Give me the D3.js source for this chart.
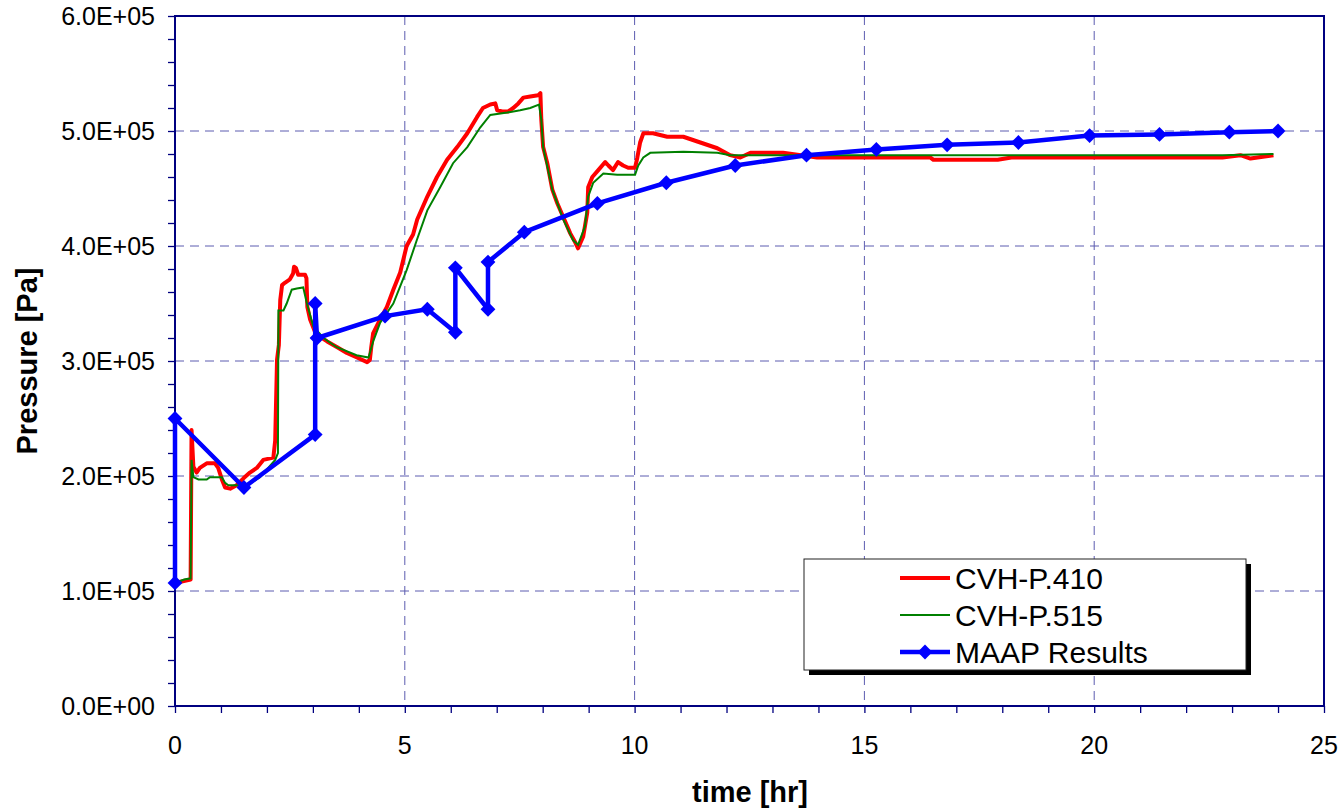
<!DOCTYPE html>
<html>
<head>
<meta charset="utf-8">
<script src="https://cdn.jsdelivr.net/npm/d3@7"></script>
<style>
  body { margin: 0; background: #fff; }
  text { font-family: "Liberation Sans", Arial, sans-serif; }
</style>
</head>
<body>
<svg width="1344" height="808"></svg>
<script>
// time [hr] and pressure [Pa]
var cvh410Time = [0, 0.34, 0.36, 0.40, 0.47, 0.54, 0.69, 0.87, 0.94, 1.02, 1.09, 1.20, 1.34, 1.49, 1.63, 1.78, 1.92, 2.14,
  2.18, 2.22, 2.26, 2.29, 2.33, 2.39, 2.50, 2.57, 2.59, 2.63, 2.68, 2.83, 2.86, 2.88, 2.94, 3.05, 3.16, 3.31, 3.53, 3.74,
  3.96, 4.18, 4.24, 4.27, 4.31, 4.46, 4.61, 4.75, 4.90, 5.04, 5.18, 5.27, 5.49, 5.70, 5.92, 6.14, 6.36, 6.57, 6.70, 6.86,
  6.97, 7.01, 7.12, 7.25, 7.36, 7.47, 7.58, 7.73, 7.90, 7.95, 7.97, 8.01, 8.10, 8.21, 8.32, 8.45, 8.60, 8.71, 8.77, 8.88,
  8.97, 8.99, 9.08, 9.21, 9.36, 9.43, 9.53, 9.64, 9.75, 9.86, 10.01, 10.06, 10.12, 10.19, 10.40, 10.71, 11.06, 11.43,
  11.80, 12.08, 12.30, 12.52, 13.23, 13.97, 16.43, 16.50, 17.90, 18.20, 22.79, 23.18, 23.40, 23.90];
var cvh410Press = [1.07, 1.10, 2.40, 2.08, 2.03, 2.07, 2.11, 2.11, 2.07, 1.97, 1.90, 1.89, 1.92, 1.98, 2.03, 2.07, 2.14, 2.16,
  2.31, 3.01, 3.14, 3.53, 3.66, 3.68, 3.71, 3.76, 3.82, 3.81, 3.75, 3.75, 3.72, 3.47, 3.36, 3.25, 3.21, 3.17, 3.12, 3.07,
  3.03, 2.99, 3.01, 3.12, 3.24, 3.36, 3.47, 3.62, 3.77, 4.00, 4.10, 4.23, 4.43, 4.60, 4.75, 4.86, 4.98, 5.12, 5.20, 5.23,
  5.24, 5.18, 5.17, 5.17, 5.20, 5.24, 5.29, 5.30, 5.31, 5.33, 5.10, 4.86, 4.72, 4.49, 4.37, 4.25, 4.11, 4.03, 3.98, 4.08,
  4.29, 4.51, 4.60, 4.66, 4.73, 4.70, 4.66, 4.73, 4.70, 4.68, 4.68, 4.77, 4.90, 4.98, 4.98, 4.95, 4.95, 4.90,
  4.85, 4.79, 4.77, 4.81, 4.81, 4.77, 4.77, 4.75, 4.75, 4.77, 4.77, 4.79, 4.76, 4.79].map(function(v) { return v * 1e5; });

var cvh515Time = [0, 0.20, 0.34, 0.36, 0.40, 0.51, 0.69, 0.76, 1.02, 1.09, 1.16, 1.38, 1.60, 1.85, 2.18, 2.24, 2.25, 2.36,
  2.43, 2.54, 2.65, 2.79, 2.87, 3.01, 3.23, 3.52, 3.95, 4.21, 4.32, 4.46, 4.75, 5.04, 5.26, 5.49, 5.77, 6.05, 6.36, 6.64,
  6.86, 7.23, 7.51, 7.73, 7.92, 7.97, 8.01, 8.21, 8.45, 8.66, 8.77, 8.92, 8.99, 9.10, 9.32, 9.62, 10.01, 10.08, 10.19,
  10.34, 11.06, 11.80, 12.08, 14.69, 22.79, 23.90];
var cvh515Press = [1.07, 1.10, 1.11, 2.14, 1.99, 1.97, 1.97, 1.99, 1.99, 1.94, 1.92, 1.92, 1.93, 1.99, 2.14, 2.20, 3.44, 3.44,
  3.50, 3.62, 3.63, 3.64, 3.50, 3.30, 3.20, 3.12, 3.05, 3.03, 3.18, 3.33, 3.50, 3.79, 4.05, 4.31, 4.51, 4.72, 4.86, 5.03,
  5.14, 5.16, 5.18, 5.20, 5.23, 5.10, 4.86, 4.49, 4.23, 4.05, 4.01, 4.17, 4.43, 4.55, 4.63, 4.62, 4.62, 4.70, 4.77,
  4.81, 4.82, 4.81, 4.79, 4.79, 4.79, 4.80].map(function(v) { return v * 1e5; });

var maapTime = [0, 0, 1.50, 3.05, 3.05, 3.09, 4.57, 5.49, 6.10, 6.10, 6.81, 6.81, 7.60, 9.19, 10.69, 12.19, 13.74, 15.26,
  16.80, 18.35, 19.90, 21.42, 22.94, 24.00];
var maapPress = [1.07, 2.50, 1.90, 2.36, 3.50, 3.20, 3.39, 3.45, 3.25, 3.81, 3.45, 3.86, 4.12, 4.37, 4.55, 4.70, 4.79, 4.84,
  4.88, 4.90, 4.96, 4.97, 4.99, 5.00].map(function(v) { return v * 1e5; });

var seriesNames = ["CVH-P.410", "CVH-P.515", "MAAP Results"];
var xTicks = [0, 5, 10, 15, 20, 25];
var yTicks = [0, 1e5, 2e5, 3e5, 4e5, 5e5, 6e5];

// plot box (avoid "top", it clashes with window.top)
var plotL = 175, plotR = 1324, plotT = 16, plotB = 706;
var frameColour = "#000080";
var gridColour  = "#5c5cb0";

var svg = d3.select("svg");

var xscale = d3.scaleLinear().domain([0, 25]).range([plotL, plotR]);
var yscale = d3.scaleLinear().domain([0, 6e5]).range([plotB, plotT]);

function zip(ts, ps) { return ts.map(function(t, i) { return [t, ps[i]]; }); }

// Gridlines
svg.append("g").selectAll("line")
   .data(yTicks.slice(1, -1)).enter().append("line")
   .attr("x1", plotL).attr("x2", plotR)
   .attr("y1", function(d) { return yscale(d); }).attr("y2", function(d) { return yscale(d); })
   .attr("stroke", gridColour).attr("stroke-width", 1).style("stroke-dasharray", "9,6");
svg.append("g").selectAll("line")
   .data(xTicks.slice(1, -1)).enter().append("line")
   .attr("y1", plotT).attr("y2", plotB)
   .attr("x1", function(d) { return xscale(d); }).attr("x2", function(d) { return xscale(d); })
   .attr("stroke", gridColour).attr("stroke-width", 1).style("stroke-dasharray", "9,6");

// Axes: minor ticks with no labels, then labels on the major ticks
var xAxis = d3.axisBottom(xscale).tickValues(d3.range(0, 26, 1)).tickSize(7).tickFormat("");
var yAxis = d3.axisLeft(yscale).tickValues(d3.range(0, 6e5 + 1, 2e4)).tickSize(7).tickFormat("");

var gx = svg.append("g").attr("transform", "translate(0," + plotB + ")").call(xAxis);
var gy = svg.append("g").attr("transform", "translate(" + plotL + ",0)").call(yAxis);
[gx, gy].forEach(function(g) {
  g.select(".domain").remove();
  g.selectAll(".tick line").attr("stroke", frameColour).attr("stroke-width", 1.3);
});

svg.append("g").selectAll("text")
   .data(xTicks).enter().append("text")
   .attr("x", function(d) { return xscale(d); }).attr("y", 754)
   .attr("text-anchor", "middle").style("font-size", "25px")
   .text(function(d) { return d; });

svg.append("g").selectAll("text")
   .data(yTicks).enter().append("text")
   .attr("x", 155).attr("y", function(d) { return yscale(d) + 9; })
   .attr("text-anchor", "end").style("font-size", "25px")
   .text(function(d) { return d === 0 ? "0.0E+00" : (d / 1e5).toFixed(1) + "E+05"; });

// Plot frame
svg.append("rect")
   .attr("x", plotL).attr("y", plotT).attr("width", plotR - plotL).attr("height", plotB - plotT)
   .attr("fill", "none").attr("stroke", frameColour).attr("stroke-width", 2);

// Axis titles
svg.append("text")
   .attr("x", 750).attr("y", 802)
   .attr("text-anchor", "middle").style("font-size", "29px").style("font-weight", "bold")
   .text("time [hr]");
svg.append("text")
   .attr("transform", "translate(37,361) rotate(-90)")
   .attr("text-anchor", "middle").style("font-size", "29px").style("font-weight", "bold")
   .text("Pressure [Pa]");

// Series
var line = d3.line()
   .x(function(d) { return xscale(d[0]); })
   .y(function(d) { return yscale(d[1]); });

svg.append("path").datum(zip(cvh410Time, cvh410Press))
   .attr("d", line).attr("fill", "none").attr("stroke", "#ff0000")
   .attr("stroke-width", 4).attr("stroke-linejoin", "round");
svg.append("path").datum(zip(cvh515Time, cvh515Press))
   .attr("d", line).attr("fill", "none").attr("stroke", "#008000")
   .attr("stroke-width", 2);

var maap = zip(maapTime, maapPress);
svg.append("path").datum(maap)
   .attr("d", line).attr("fill", "none").attr("stroke", "#0000ff")
   .attr("stroke-width", 4.5).attr("stroke-linejoin", "round");

var diamond = d3.symbol().type(d3.symbolSquare).size(110);
svg.append("g").selectAll("path")
   .data(maap).enter().append("path")
   .attr("d", diamond)
   .attr("transform", function(d) { return "translate(" + xscale(d[0]) + "," + yscale(d[1]) + ") rotate(45)"; })
   .attr("fill", "#0000ff");

// Legend
var lg = svg.append("g").attr("transform", "translate(804,559)");
lg.append("rect").attr("x", 5).attr("y", 5).attr("width", 442).attr("height", 111).attr("fill", "#000");
lg.append("rect").attr("x", 0).attr("y", 0).attr("width", 442).attr("height", 111)
   .attr("fill", "#fff").attr("stroke", "#222").attr("stroke-width", 1);

var legendColours = ["#ff0000", "#008000", "#0000ff"];
var legendWidths  = [4, 2, 4.5];
seriesNames.forEach(function(name, i) {
  var yy = 19 + i * 37;
  lg.append("line").attr("x1", 96).attr("x2", 146).attr("y1", yy).attr("y2", yy)
    .attr("stroke", legendColours[i]).attr("stroke-width", legendWidths[i]);
  if (i === 2) {
    lg.append("path").attr("d", diamond)
      .attr("transform", "translate(121," + yy + ") rotate(45)").attr("fill", "#0000ff");
  }
  lg.append("text").attr("x", 151).attr("y", yy + 11)
    .style("font-size", "30px").text(name);
});
</script>
</body>
</html>
